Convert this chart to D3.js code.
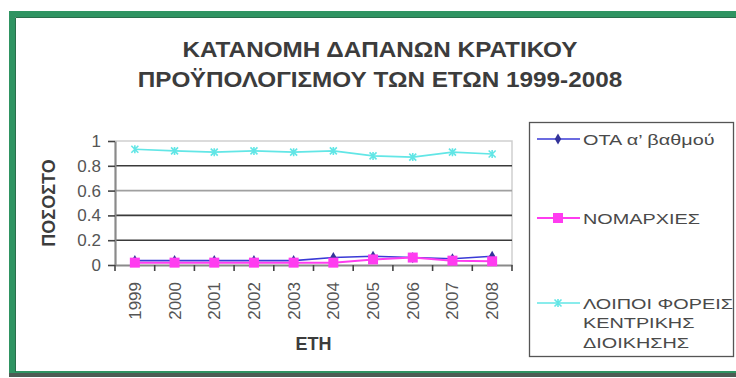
<!DOCTYPE html>
<html>
<head>
<meta charset="utf-8">
<script src="https://cdn.jsdelivr.net/npm/d3@7/dist/d3.min.js"></script>
<style>
  html, body { margin: 0; padding: 0; background: #fff; }
  svg { display: block; font-family: "Liberation Sans", Arial, sans-serif; }
</style>
</head>
<body>
<svg id="chart" width="736" height="378"></svg>
<script>
// Share of the state budget by recipient, 1999-2008
const years = ['1999', '2000', '2001', '2002', '2003', '2004', '2005', '2006', '2007', '2008'];
const otaValues = [0.035, 0.035, 0.035, 0.035, 0.035, 0.06, 0.07, 0.06, 0.05, 0.07];
const nomarchiesValues = [0.019, 0.019, 0.019, 0.019, 0.019, 0.019, 0.045, 0.06, 0.035, 0.03];
const loipoiValues = [0.933, 0.92, 0.91, 0.92, 0.91, 0.92, 0.88, 0.87, 0.91, 0.895];
const yTicks = [0, 0.2, 0.4, 0.6, 0.8, 1];
const seriesNames = ['ΟΤΑ α\u2019 βαθμού', 'ΝΟΜΑΡΧΙΕΣ', 'ΛΟΙΠΟΙ ΦΟΡΕΙΣ ΚΕΝΤΡΙΚΗΣ ΔΙΟΙΚΗΣΗΣ'];
const titleLines = ['ΚΑΤΑΝΟΜΗ ΔΑΠΑΝΩΝ ΚΡΑΤΙΚΟΥ', 'ΠΡΟΫΠΟΛΟΓΙΣΜΟΥ ΤΩΝ ΕΤΩΝ 1999-2008'];
const yTitle = 'ΠΟΣΟΣΤΟ';
const xTitle = 'ΕΤΗ';

const series = [
  { name: seriesNames[0], values: otaValues, color: '#3a3ad6', marker: 'diamond', width: 1.6 },
  { name: seriesNames[1], values: nomarchiesValues, color: '#ff3cf0', marker: 'square', width: 2 },
  { name: seriesNames[2], values: loipoiValues, color: '#62e6e6', marker: 'star', width: 1.6 }
];

const svg = d3.select('#chart');

// outer chart frame
svg.append('rect')
  .attr('x', 12).attr('y', 14).attr('width', 740).attr('height', 360)
  .attr('fill', '#fff').attr('stroke', '#2f9462').attr('stroke-width', 6);
svg.append('line')
  .attr('x1', 9).attr('x2', 736).attr('y1', 375).attr('y2', 375)
  .attr('stroke', '#4d5c54').attr('stroke-width', 4);
svg.append('line')
  .attr('x1', 15.5).attr('x2', 736).attr('y1', 17.5).attr('y2', 17.5)
  .attr('stroke', '#2a6e4c').attr('stroke-width', 1);
svg.append('line')
  .attr('x1', 15.5).attr('x2', 15.5).attr('y1', 17.5).attr('y2', 372)
  .attr('stroke', '#2a6e4c').attr('stroke-width', 1);

// title
const title = svg.append('text')
  .attr('text-anchor', 'middle').attr('font-weight', 'bold')
  .attr('font-size', 22.5).attr('fill', '#3c3c3c');
titleLines.forEach((t, i) => {
  title.append('tspan').attr('x', 0).attr('y', 57 + i * 30).text(t);
});
title.attr('transform', 'translate(380,0) scale(1.08,1)');

// scales
const plot = { left: 115, right: 512, top: 141, bottom: 265 };
const x = d3.scaleBand().domain(years).range([plot.left, plot.right]);
const y = d3.scaleLinear().domain([0, 1]).range([plot.bottom, plot.top]);

// plot frame (top and right edges)
svg.append('path')
  .attr('d', `M${plot.left},${plot.top}H${plot.right}V${plot.bottom}`)
  .attr('fill', 'none').attr('stroke', '#cfcfcf').attr('stroke-width', 1.5);

// horizontal gridlines
svg.append('g').selectAll('line')
  .data(yTicks.filter(d => d > 0 && d < 1))
  .join('line')
  .attr('x1', plot.left).attr('x2', plot.right)
  .attr('y1', d => y(d)).attr('y2', d => y(d))
  .attr('stroke', d => d === 0.6 ? '#a0a0a0' : '#3a3a3a')
  .attr('stroke-width', 1.6);

// y axis
const yAxis = svg.append('g')
  .attr('transform', `translate(${plot.left},0)`)
  .call(d3.axisLeft(y).tickValues(yTicks).tickSize(7).tickSizeOuter(0)
    .tickFormat(d => String(+d.toFixed(1))));
yAxis.select('.domain').attr('stroke', '#8a8a8a').attr('stroke-width', 2.2);
yAxis.selectAll('.tick line').attr('stroke', '#444').attr('stroke-width', 1.6);
yAxis.selectAll('.tick text')
  .attr('font-size', 17).attr('fill', '#555').attr('x', -14)
  .attr('font-family', '"Liberation Sans", Arial, sans-serif');

// x axis: labels centred on categories, ticks on category boundaries
const xAxis = svg.append('g')
  .attr('transform', `translate(0,${plot.bottom})`)
  .call(d3.axisBottom(x).tickSize(0).tickSizeOuter(0));
xAxis.select('.domain').attr('stroke', '#8a8a8a').attr('stroke-width', 2.2);
xAxis.selectAll('.tick text')
  .attr('font-size', 17).attr('fill', '#555')
  .attr('font-family', '"Liberation Sans", Arial, sans-serif')
  .attr('text-anchor', 'end')
  .attr('dy', '0.35em').attr('x', 0).attr('y', 0)
  .attr('transform', 'translate(0,17) rotate(-90)');
const boundaries = years.map(d => x(d)).concat([x.range()[1]]);
svg.append('g').selectAll('line')
  .data(boundaries)
  .join('line')
  .attr('x1', d => d).attr('x2', d => d)
  .attr('y1', plot.bottom).attr('y2', plot.bottom + 6)
  .attr('stroke', '#444').attr('stroke-width', 1.6);

// axis titles
svg.append('text')
  .attr('transform', 'translate(55,203) rotate(-90)')
  .attr('text-anchor', 'middle').attr('font-weight', 'bold')
  .attr('font-size', 18).attr('fill', '#3c3c3c')
  .text(yTitle);
svg.append('text')
  .attr('x', (plot.left + plot.right) / 2).attr('y', 350)
  .attr('text-anchor', 'middle').attr('font-weight', 'bold')
  .attr('font-size', 18).attr('fill', '#3c3c3c')
  .text(xTitle);

// marker symbols
function drawMarker(g, type, color) {
  if (type === 'diamond') {
    g.append('path').attr('d', d3.symbol(d3.symbolDiamond, 36)()).attr('fill', '#333399');
  } else if (type === 'square') {
    g.append('path').attr('d', d3.symbol(d3.symbolSquare, 100)()).attr('fill', color);
  } else {
    g.append('path').attr('d', 'M-3.5,-3.5L3.5,3.5M-3.5,3.5L3.5,-3.5M0,-4V4')
      .attr('stroke', color).attr('stroke-width', 1.6).attr('fill', 'none');
  }
}

const cx = d => x(d) + x.bandwidth() / 2;
const line = d3.line().x(d => cx(d.year)).y(d => y(d.value));

series.forEach(s => {
  const pts = years.map((yr, i) => ({ year: yr, value: s.values[i] }));
  const g = svg.append('g');
  g.append('path').datum(pts)
    .attr('d', line).attr('fill', 'none')
    .attr('stroke', s.color).attr('stroke-width', s.width);
  g.selectAll('g.pt').data(pts).join('g')
    .attr('class', 'pt')
    .attr('transform', d => `translate(${cx(d.year)},${y(d.value)})`)
    .each(function () { drawMarker(d3.select(this), s.marker, s.color); });
});

// legend
svg.append('rect')
  .attr('x', 529.5).attr('y', 122.5).attr('width', 204).attr('height', 234)
  .attr('fill', '#fff').attr('stroke', '#555').attr('stroke-width', 1.3);

const legendRows = [
  { lines: [seriesNames[0]], y: 139 },
  { lines: [seriesNames[1]], y: 218 },
  { lines: ['ΛΟΙΠΟΙ ΦΟΡΕΙΣ', 'ΚΕΝΤΡΙΚΗΣ', 'ΔΙΟΙΚΗΣΗΣ'], y: 303 }
];
legendRows.forEach((row, i) => {
  const s = series[i];
  const g = svg.append('g');
  g.append('line').attr('x1', 537).attr('x2', 580).attr('y1', row.y).attr('y2', row.y)
    .attr('stroke', s.color).attr('stroke-width', s.width);
  const m = g.append('g').attr('transform', `translate(558,${row.y})`);
  drawMarker(m, s.marker, s.color);
  row.lines.forEach((t, j) => {
    svg.append('text')
      .attr('transform', `translate(583,${row.y + j * 19.5}) scale(1.28,1)`)
      .attr('dy', '0.36em')
      .attr('font-size', 15.5).attr('fill', '#4a4a4a')
      .text(t);
  });
});
</script>
</body>
</html>
